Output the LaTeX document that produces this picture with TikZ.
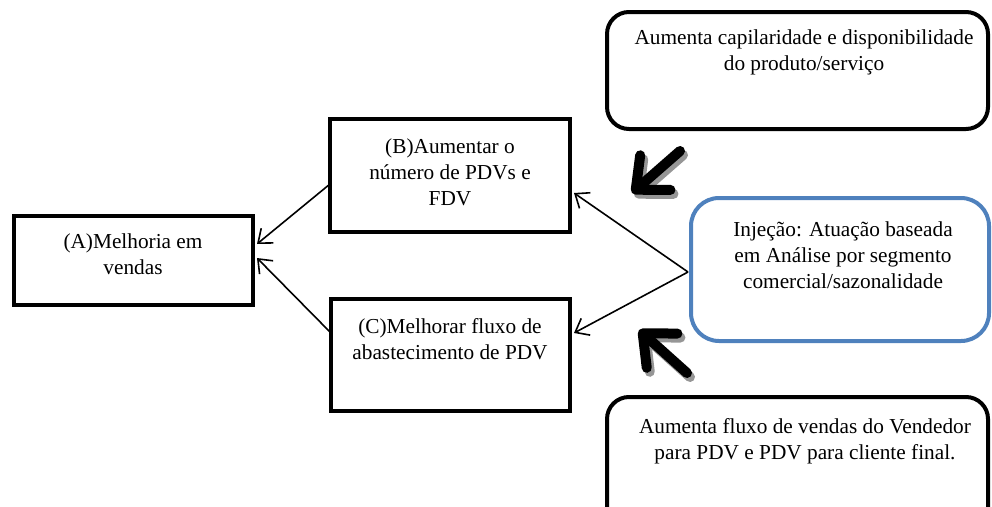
\documentclass[tikz,border=0pt]{standalone}
\usepackage{fontspec}
\setmainfont{Liberation Serif}
\usetikzlibrary{arrows.meta,fit}
\definecolor{injblue}{RGB}{79,129,189}
\definecolor{shadowgray}{RGB}{150,150,150}
\tikzset{
  sqbox/.style={draw=black, line width=4.5pt, inner sep=0pt},
  rbox/.style={draw=black, line width=4pt, rounded corners=22pt, inner sep=0pt},
  bluebox/.style={draw=injblue, line width=4pt, rounded corners=28pt, inner sep=0pt},
  txt/.style={anchor=north, inner sep=0pt, align=center,
    font=\fontsize{21.3pt}{26pt}\selectfont},
  thinarrow/.style={draw=black, line width=1.6pt,
    -{Straight Barb[length=12pt,width=19pt,line width=1.6pt]}},
  bigarrow/.style={line width=10pt, line cap=round, line join=round,
    -{Straight Barb[length=26pt,width=46pt,line cap=round,line join=round]}},
}
\begin{document}
\begin{tikzpicture}[x=1pt,y=-1pt]
\useasboundingbox (0,0) rectangle (992,506);
\begin{scope}
\clip (0,0) rectangle (992,506);

% main boxes
\node[sqbox, fit={(14,216) (253,305)}] (A) {};
\node[sqbox, fit={(330,119) (570,232)}] (B) {};
\node[sqbox, fit={(331,299) (570,411)}] (C) {};
\node[bluebox, fit={(691,198) (989,341)}] (INJ) {};
\node[rbox, fit={(607,12) (988,129)}] (TOP) {};
\node[rbox, fit={(607,397) (988,540)}] (BOT) {};

% texts
\node[txt] (tA) at (133,234) {(A)Melhoria em\\vendas};
\node[txt] (tB) at (450,139) {(B)Aumentar o\\número de PDVs e\\FDV};
\node[txt] (tC) at (450,318) {(C)Melhorar fluxo de\\abastecimento de PDV};
\node[txt] (tINJ) at (843,222) {Injeção: Atuação baseada\\em Análise por segmento\\comercial/sazonalidade};
\node[txt] (tTOP) at (804,30) {Aumenta capilaridade e disponibilidade\\do produto/serviço};
\node[txt] (tBOT) at (805,418) {Aumenta fluxo de vendas do Vendedor\\para PDV e PDV para cliente final.};

% connector end points
\coordinate (injL) at (688,272);
\coordinate (bIn) at (574,193);
\coordinate (cIn) at (574,333);
\coordinate (bOut) at (330,184);
\coordinate (cOut) at (330,332);
\coordinate (aIn1) at (257,244);
\coordinate (aIn2) at (257,258);

\draw[thinarrow] (injL) -- (bIn);
\draw[thinarrow] (injL) -- (cIn);
\draw[thinarrow] (bOut) -- (aIn1);
\draw[thinarrow] (cOut) -- (aIn2);

% heavy arrows pointing at the connectors
\coordinate (tt) at (680,151);
\coordinate (th) at (632,193);
\coordinate (bt) at (687,373);
\coordinate (bh) at (639,330);
\draw[bigarrow, shadowgray] ([shift={(3,4)}]tt) -- ([shift={(3,4)}]th);
\draw[bigarrow, shadowgray] ([shift={(3,4)}]bt) -- ([shift={(3,4)}]bh);
\draw[bigarrow, black] (tt) -- (th);
\draw[bigarrow, black] (bt) -- (bh);
\end{scope}
\end{tikzpicture}
\end{document}
